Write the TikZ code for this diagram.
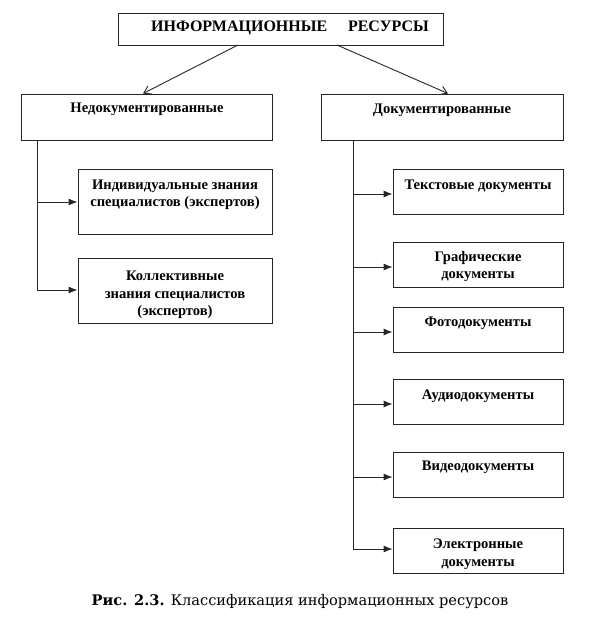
\documentclass[tikz,border=0pt]{standalone}
\usepackage{fontspec}
\setmainfont{Liberation Serif}
\newfontfamily\capfont{DejaVu Serif}
\usetikzlibrary{arrows.meta}
\begin{document}
\begin{tikzpicture}[x=1pt,y=-1pt,
  box/.style={draw=black!85, line width=0.9pt, inner sep=0pt},
  txt/.style={font=\fontsize{14.6}{17.5}\selectfont\bfseries, align=center, inner sep=0pt},
  conn/.style={line width=0.9pt, draw=black!85},
  side/.style={conn, -{Latex[length=9pt,width=7pt]}},
  diag/.style={conn, -{Straight Barb[length=7pt,width=9pt]}}]
\useasboundingbox (0,0) rectangle (594,626);
% boxes
\node[box, minimum width=325pt, minimum height=32pt] (top) at (280.5,29) {};
\node[box, minimum width=251pt, minimum height=46pt] (ned) at (146.5,117) {};
\node[box, minimum width=242pt, minimum height=46pt] (dok) at (442,117) {};
\node[box, minimum width=194pt, minimum height=65pt] (ind) at (175,201.5) {};
\node[box, minimum width=194pt, minimum height=65pt] (kol) at (175,290.5) {};
\node[box, minimum width=170pt, minimum height=45pt] (tek) at (478,191.5) {};
\node[box, minimum width=170pt, minimum height=45pt] (gra) at (478,264.5) {};
\node[box, minimum width=170pt, minimum height=45pt] (fot) at (478,329.5) {};
\node[box, minimum width=170pt, minimum height=45pt] (aud) at (478,401.5) {};
\node[box, minimum width=170pt, minimum height=45pt] (vid) at (478,474.5) {};
\node[box, minimum width=170pt, minimum height=45pt] (ele) at (478,550.5) {};
% texts
\node[txt, font=\fontsize{16}{18}\selectfont\bfseries] (ttop) at (290,28) {ИНФОРМАЦИОННЫЕ\hspace{1.3em}РЕСУРСЫ};
\node[txt] (tned) at (147,109.5) {Недокументированные};
\node[txt] (tdok) at (442,110.5) {Документированные};
\node[txt] (tind) at (175,195) {Индивидуальные знания\\специалистов (экспертов)};
\node[txt] (tkol) at (175,295) {Коллективные\\знания специалистов\\(экспертов)};
\node[txt] (ttek) at (478,186) {Текстовые документы};
\node[txt] (tgra) at (478,266.5) {Графические\\документы};
\node[txt] (tfot) at (478,323) {Фотодокументы};
\node[txt] (taud) at (478,396) {Аудиодокументы};
\node[txt] (tvid) at (478,467) {Видеодокументы};
\node[txt] (tele) at (478,554) {Электронные\\документы};
% diagonal arrows
\coordinate (a1) at (238,45);
\coordinate (a2) at (337,45);
\draw[diag] (a1) -- (ned.north -| 143,0);
\draw[diag] (a2) -- (dok.north -| 448,0);
% left trunk
\coordinate (l0) at (37,140);
\coordinate (l1) at (37,202);
\coordinate (l2) at (37,290);
\draw[conn] (l0) -- (l2);
\draw[side] (l1) -- (l1 -| ind.west);
\draw[side] (l2) -- (l2 -| kol.west);
% right trunk
\coordinate (r0) at (353,140);
\coordinate (r1) at (353,194);
\coordinate (r2) at (353,267);
\coordinate (r3) at (353,332);
\coordinate (r4) at (353,404);
\coordinate (r5) at (353,477);
\coordinate (r6) at (353,549);
\draw[conn] (r0) -- (r6);
\draw[side] (r1) -- (r1 -| tek.west);
\draw[side] (r2) -- (r2 -| gra.west);
\draw[side] (r3) -- (r3 -| fot.west);
\draw[side] (r4) -- (r4 -| aud.west);
\draw[side] (r5) -- (r5 -| vid.west);
\draw[side] (r6) -- (r6 -| ele.west);
% caption
\node[inner sep=0pt, font=\capfont\fontsize{14.6}{17}\selectfont] (cap) at (300,602) {\textbf{Рис. 2.3.} Классификация информационных ресурсов};
\end{tikzpicture}
\end{document}
